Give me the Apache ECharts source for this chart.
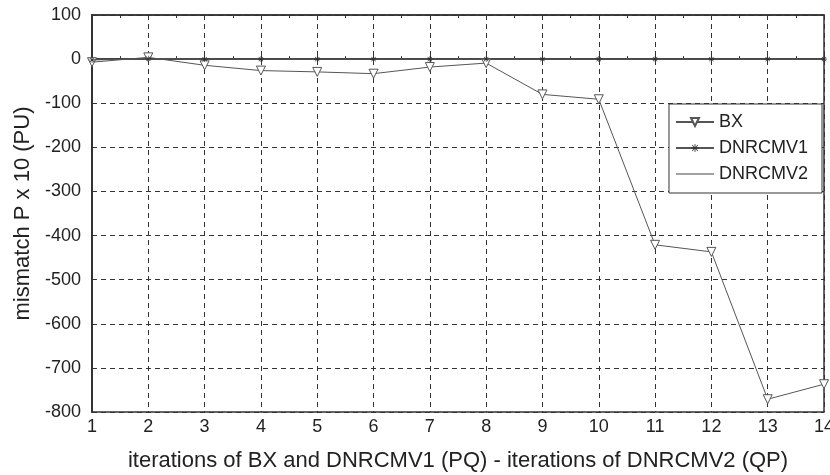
<!DOCTYPE html>
<html>
<head>
<meta charset="utf-8">
<script src="https://cdn.jsdelivr.net/npm/echarts@6/dist/echarts.min.js"></script>
<style>
  html, body { margin: 0; padding: 0; background: #fff; }
  #chart { width: 830px; height: 475px; }
</style>
</head>
<body>
<div id="chart"></div>
<script>
const iterations = [1, 2, 3, 4, 5, 6, 7, 8, 9, 10, 11, 12, 13, 14];
const bx = [-7, 4, -14, -26, -29, -33, -18, -9, -80, -91, -421, -437, -771, -737];
const dnrcmv1 = [-2, 1, 0, 0, 0, 0, 0, 0, 0, 0, 0, 0, 0, 0];
const dnrcmv2 = [0, 0, 0, 0, 0, 0, 0, 0, 0, 0, 0, 0, 0, 0];

const pairs = ys => iterations.map((x, i) => [x, ys[i]]);

const font = 'Liberation Sans, Arial, sans-serif';
const lineColor = '#555';
// small asterisk marker, like the original plot
const asterisk = 'path://M0,4.5L10,4.5L10,5.5L0,5.5Z M4.5,0L5.5,0L5.5,10L4.5,10Z M1,1.7L1.7,1L9,8.3L8.3,9Z M8.3,1L9,1.7L1.7,9L1,8.3Z';
const plainLine = 'path://M0,0L38,0L38,1.2L0,1.2Z';

const chart = echarts.init(document.getElementById('chart'));
chart.setOption({
  animation: false,
  textStyle: { fontFamily: font },
  grid: {
    left: 92, right: 6, top: 15, bottom: 63,
    outerBoundsMode: 'none',
    show: true, borderColor: '#333', borderWidth: 1.5,
  },
  legend: {
    orient: 'vertical',
    right: 8,
    top: 104,
    backgroundColor: '#fff',
    borderColor: '#333',
    borderWidth: 1,
    padding: [9, 14, 10, 6],
    itemWidth: 38,
    itemHeight: 10,
    itemGap: 8,
    textStyle: { fontSize: 18, color: '#222', fontFamily: font },
    data: [
      'BX',
      'DNRCMV1',
      { name: 'DNRCMV2', icon: plainLine, itemStyle: { color: '#444' } },
    ],
  },
  xAxis: [
    {
      type: 'value',
      min: 1,
      max: 14,
      interval: 1,
      name: 'iterations of BX and DNRCMV1 (PQ) - iterations of DNRCMV2 (QP)',
      nameLocation: 'middle',
      nameGap: 38,
      nameTextStyle: { fontSize: 22, color: '#222' },
      axisLine: { lineStyle: { color: '#333', width: 2 } },
      axisTick: { inside: true, length: 5, lineStyle: { color: '#333' } },
      minorTick: { show: true, splitNumber: 2, length: 3, lineStyle: { color: '#333' } },
      axisLabel: { fontSize: 18, color: '#222', margin: 6 },
      splitLine: { show: true, lineStyle: { color: '#333', type: [5, 4], width: 1 } },
    },
    {
      type: 'value',
      position: 'top',
      min: 1,
      max: 14,
      interval: 1,
      axisLine: { lineStyle: { color: '#333', width: 1.5 } },
      axisTick: { inside: true, length: 5, lineStyle: { color: '#333' } },
      minorTick: { show: true, splitNumber: 2, length: 3, lineStyle: { color: '#333' } },
      axisLabel: { show: false },
      splitLine: { show: false },
    },
  ],
  yAxis: {
    type: 'value',
    min: -800,
    max: 100,
    interval: 100,
    name: 'mismatch P x 10 (PU)',
    nameLocation: 'middle',
    nameGap: 54,
    nameTextStyle: { fontSize: 22, color: '#222' },
    axisLine: { show: true, lineStyle: { color: '#333', width: 2 } },
    axisTick: { show: true, inside: true, length: 5, lineStyle: { color: '#333' } },
    axisLabel: { fontSize: 18, color: '#222', margin: 11 },
    splitLine: { show: true, lineStyle: { color: '#333', type: [5, 4], width: 1 } },
  },
  series: [
    {
      name: 'BX',
      type: 'line',
      data: pairs(bx),
      symbol: 'triangle',
      symbolRotate: 180,
      symbolSize: 9,
      itemStyle: { color: '#fff', borderColor: lineColor, borderWidth: 1 },
      lineStyle: { color: lineColor, width: 1 },
      z: 3,
    },
    {
      name: 'DNRCMV1',
      type: 'line',
      data: pairs(dnrcmv1),
      symbol: asterisk,
      symbolSize: 6,
      itemStyle: { color: '#333' },
      lineStyle: { color: lineColor, width: 1 },
      z: 4,
    },
    {
      name: 'DNRCMV2',
      type: 'line',
      data: pairs(dnrcmv2),
      symbol: 'none',
      itemStyle: { color: lineColor },
      lineStyle: { color: lineColor, width: 1 },
      z: 2,
    },
  ],
});
</script>
</body>
</html>
